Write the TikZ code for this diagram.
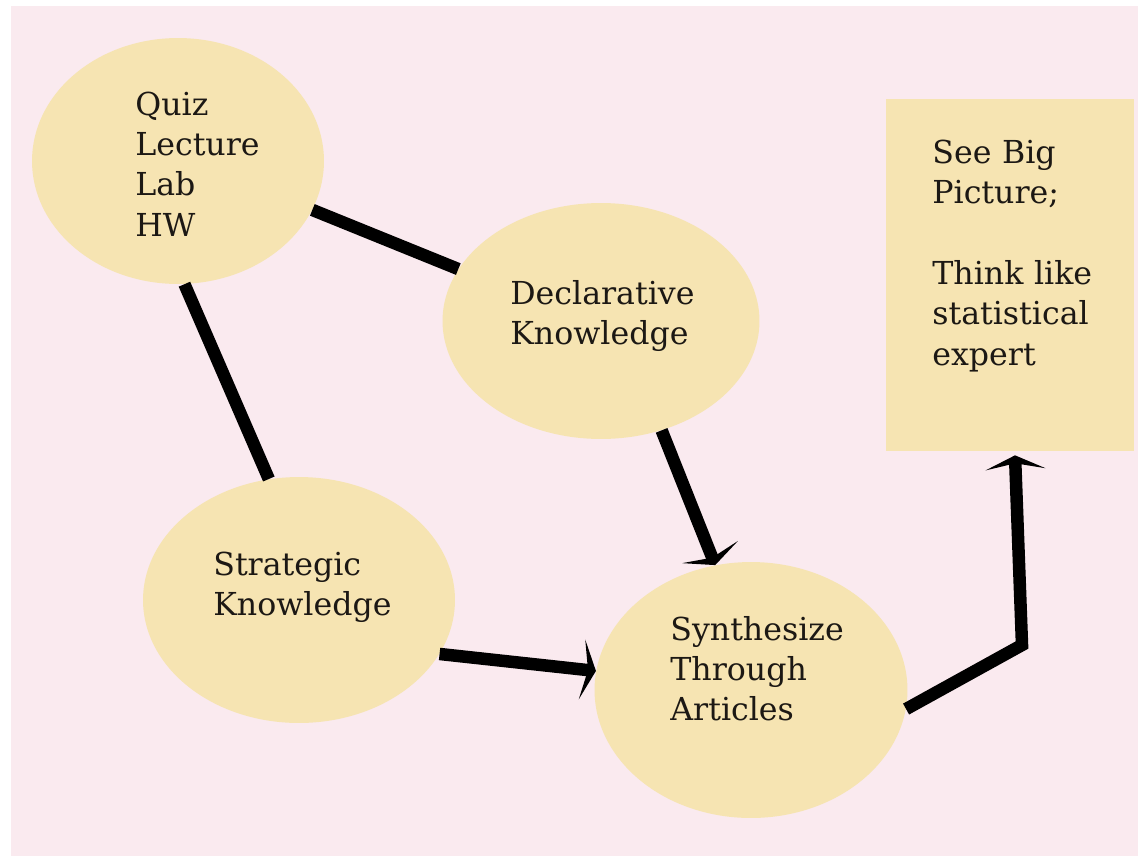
\documentclass[tikz,border=0pt]{standalone}
\usepackage{fontspec}
\setmainfont{DejaVu Serif}
\usetikzlibrary{shapes.geometric,arrows.meta}
\definecolor{bgpink}{RGB}{250,234,239}
\definecolor{blobyellow}{RGB}{246,228,178}
\definecolor{ink}{RGB}{28,24,20}

\begin{document}
\begin{tikzpicture}[x=0.02cm,y=-0.02cm,
  blob/.style={ellipse,fill=blobyellow,inner sep=0pt},
  words/.style={anchor=base west,inner sep=0pt,text width=5cm,align=left,text=ink,font=\fontsize{18pt}{23pt}\selectfont},
  link/.style={line width=0.25cm},
  arr/.style={link,-{Stealth[length=0.28cm,width=1.2cm,inset=0.12cm]}}]
\useasboundingbox (0,0) rectangle (1138,856);
\fill[white] (0,0) rectangle (1138,856);
\fill[bgpink] (11,6) rectangle (1138,856);

\node[blob,minimum width=5.84cm,minimum height=4.92cm] (quiz) at (178,161) {};
\node[blob,minimum width=6.34cm,minimum height=4.72cm] (decl) at (601,321) {};
\node[blob,minimum width=6.24cm,minimum height=4.92cm] (strat) at (299,600) {};
\node[blob,minimum width=6.26cm,minimum height=5.12cm] (synth) at (751,690) {};
\node[fill=blobyellow,inner sep=0pt,minimum width=4.96cm,minimum height=7.04cm] (big) at (1010,275) {};

\node[words] (quiztxt) at (135,115) {Quiz\\Lecture\\Lab\\HW};
\node[words] (decltxt) at (510,304) {Declarative\\Knowledge};
\node[words] (strattxt) at (213,575) {Strategic\\Knowledge};
\node[words] (synthtxt) at (670,640) {Synthesize\\Through\\Articles};
\node[words] (bigtxt) at (932,163) {See Big\\Picture;\\[23pt]Think like\\statistical\\expert};

\draw[link] (quiz.-20) -- (decl.160);
\draw[link] (quiz.-87) -- (strat.104);
\draw[arr] (decl.-61) -- (synth.106);
\draw[arr] (strat.-21) -- (synth.173);
\coordinate (bend) at (1022,645);
\draw[arr] (synth.-7) -- (bend) -- ([xshift=0.1cm,yshift=-0.08cm]big.south);
\end{tikzpicture}
\end{document}
